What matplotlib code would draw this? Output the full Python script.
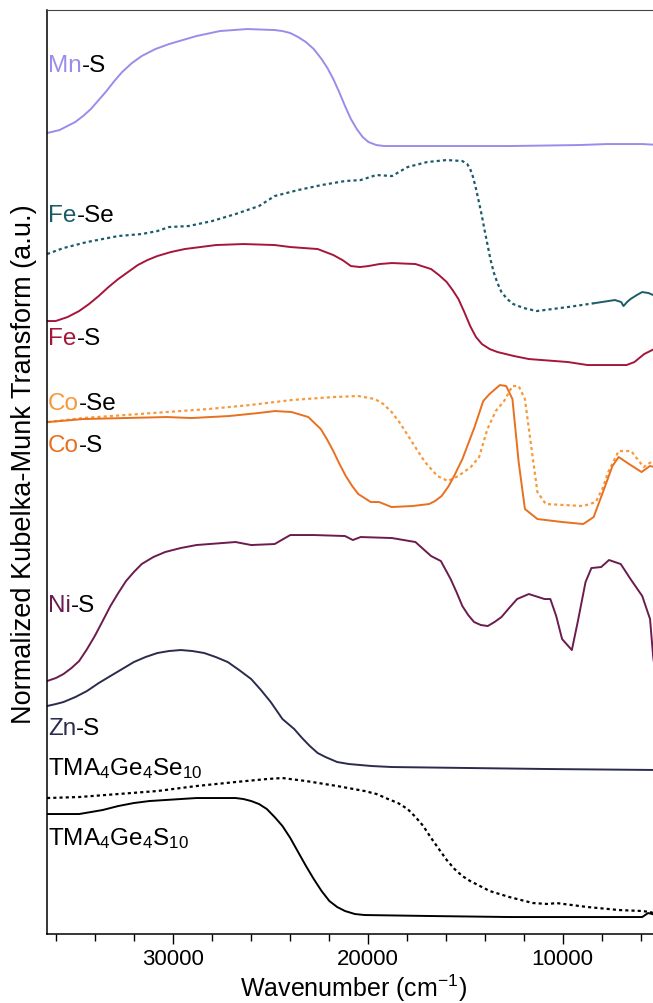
import numpy as np
import matplotlib
matplotlib.use("Agg")
import matplotlib.pyplot as plt
from matplotlib.ticker import MultipleLocator

plt.rcParams["font.family"] = ["Liberation Sans", "DejaVu Sans"]
plt.rcParams["mathtext.default"] = "regular"

# Kubelka-Munk spectra, stacked with vertical offsets (a.u.)
mns_w = [36453, 35811, 35009, 34606, 34206, 33805, 33404, 33003, 32601, 32100, 31598, 30896,
         30194, 29492, 28790, 27586, 26182, 24778, 24377, 23976, 23574, 23173, 22772, 22371,
         22070, 21769, 21468, 21167, 20866, 20565, 20264, 19964, 19562, 19161, 16754, 12742,
         9131, 7727, 5922, 5000]
mns_y = [8.01, 8.04, 8.12, 8.18, 8.25, 8.34, 8.43, 8.53, 8.62, 8.71, 8.78, 8.85,
         8.90, 8.94, 8.98, 9.03, 9.05, 9.04, 9.03, 9.01, 8.97, 8.92, 8.85, 8.75,
         8.66, 8.55, 8.42, 8.28, 8.15, 8.05, 7.97, 7.92, 7.89, 7.88, 7.88, 7.88,
         7.89, 7.90, 7.90, 7.89]

fese_w = [36453, 35610, 34407, 32802, 31598, 30796, 30194, 29191, 27987, 26784, 25580, 24778,
          23574, 22371, 21167, 20365, 19562, 18760, 17958, 16954, 15952, 15149, 14900, 14748,
          14600, 14447, 14300, 14146, 14000, 13845, 13700, 13544, 13350, 13143, 12850, 12541,
          12000, 11337, 9733, 8329]
fese_y = [6.80, 6.86, 6.92, 6.98, 7.00, 7.03, 7.07, 7.08, 7.13, 7.20, 7.28, 7.38,
          7.44, 7.49, 7.53, 7.54, 7.59, 7.58, 7.67, 7.72, 7.74, 7.73, 7.70, 7.65,
          7.57, 7.45, 7.32, 7.18, 7.03, 6.88, 6.74, 6.62, 6.51, 6.42, 6.35, 6.30,
          6.26, 6.23, 6.27, 6.31]
# low-wavenumber tail of Fe-Se (densely sampled, drawn solid)
fese_tail_w = [8329, 7326, 7000, 6884, 6700, 6523, 6200, 5922, 5600, 5000]
fese_tail_y = [6.31, 6.34, 6.32, 6.28, 6.32, 6.35, 6.39, 6.42, 6.41, 6.36]

fes_w = [36453, 36012, 35400, 34808, 34300, 33805, 33300, 32802, 32300, 31799, 31300, 30796,
         30100, 29392, 27787, 26383, 24778, 23976, 22571, 21769, 21300, 20866, 20400, 19964,
         19400, 18760, 17556, 16754, 16350, 15952, 15650, 15350, 15050, 14748, 14450, 14146,
         13750, 13344, 12500, 11739, 9733, 8730, 6724, 6322, 5821, 5000]
fes_y = [6.13, 6.13, 6.17, 6.23, 6.30, 6.38, 6.47, 6.55, 6.62, 6.69, 6.74, 6.78,
         6.82, 6.85, 6.89, 6.90, 6.89, 6.87, 6.85, 6.79, 6.74, 6.68, 6.67, 6.68,
         6.70, 6.71, 6.70, 6.65, 6.59, 6.52, 6.44, 6.35, 6.22, 6.08, 5.97, 5.90,
         5.85, 5.82, 5.78, 5.75, 5.72, 5.69, 5.69, 5.72, 5.80, 5.88]

cose_w = [36408, 34592, 32455, 30318, 28181, 26044, 23907, 21770, 20488, 19633, 19200, 18778,
          18350, 17923, 17500, 17068, 16427, 15893, 15359, 14718, 14290, 13863, 13436, 13009,
          12581, 12261, 11940, 11620, 11299, 10872, 8948, 8307, 7950, 7666, 7132, 6491,
          5850, 5000]
cose_y = [5.12, 5.16, 5.19, 5.22, 5.25, 5.29, 5.34, 5.37, 5.38, 5.35, 5.30, 5.22,
          5.11, 4.98, 4.85, 4.72, 4.58, 4.53, 4.58, 4.67, 4.77, 5.05, 5.23, 5.33,
          5.48, 5.48, 5.35, 4.88, 4.42, 4.30, 4.28, 4.32, 4.46, 4.62, 4.83, 4.83,
          4.67, 4.78]

cos_w = [36408, 34592, 32455, 30318, 29036, 27112, 25617, 24762, 23907, 23052, 22411, 22100,
         21770, 21450, 21129, 20800, 20488, 19847, 19419, 18778, 17710, 16855, 16550, 16214,
         15850, 15573, 15146, 14505, 14078, 13757, 13222, 12902, 12581, 12261, 11940, 11299,
         10017, 8948, 8414, 7880, 7452, 7132, 6598, 5957, 5529, 5000]
cos_y = [5.12, 5.15, 5.16, 5.17, 5.16, 5.18, 5.21, 5.23, 5.22, 5.17, 5.05, 4.95,
         4.83, 4.70, 4.58, 4.48, 4.40, 4.32, 4.32, 4.27, 4.28, 4.30, 4.33, 4.38,
         4.48, 4.58, 4.75, 5.08, 5.33, 5.40, 5.49, 5.48, 5.35, 4.72, 4.25, 4.15,
         4.12, 4.10, 4.17, 4.45, 4.68, 4.77, 4.70, 4.62, 4.68, 4.66]

nis_w = [36453, 36000, 35610, 35200, 34808, 34400, 34006, 33600, 33203, 32800, 32401, 32000,
         31598, 31000, 30395, 29600, 28790, 26784, 25982, 24778, 23976, 22772, 21167, 20766,
         20365, 18760, 17556, 16754, 16252, 15751, 15450, 15149, 14850, 14547, 14200, 13845,
         13500, 13143, 12750, 12341, 11739, 10937, 10636, 10335, 10034, 9533, 9232, 8830,
         8529, 8028, 7627, 7025, 6523, 5922, 5521, 5360, 5100]
nis_y = [2.53, 2.56, 2.60, 2.66, 2.73, 2.85, 2.98, 3.13, 3.28, 3.41, 3.53, 3.62,
         3.70, 3.77, 3.82, 3.86, 3.89, 3.92, 3.89, 3.90, 3.99, 3.99, 3.98, 3.94,
         3.97, 3.96, 3.92, 3.78, 3.73, 3.55, 3.42, 3.28, 3.19, 3.12, 3.09, 3.08,
         3.12, 3.17, 3.26, 3.35, 3.40, 3.35, 3.35, 3.18, 2.95, 2.84, 3.12, 3.52,
         3.66, 3.67, 3.74, 3.70, 3.55, 3.38, 3.15, 2.77, 2.40]

zns_w = [36453, 36000, 35610, 35000, 34407, 33800, 33203, 32600, 32000, 31400, 30796, 30200,
         29592, 29000, 28389, 27800, 27185, 26600, 25982, 25480, 24979, 24377, 23775, 23370,
         22973, 22570, 22170, 21570, 20967, 19800, 18760, 14748, 10736, 5000]
zns_y = [2.28, 2.30, 2.32, 2.37, 2.43, 2.51, 2.58, 2.65, 2.72, 2.77, 2.81, 2.83,
         2.84, 2.83, 2.81, 2.77, 2.72, 2.64, 2.55, 2.44, 2.32, 2.15, 2.05, 1.96,
         1.88, 1.81, 1.77, 1.72, 1.70, 1.68, 1.67, 1.66, 1.65, 1.64]

gese_w = [36453, 34808, 32802, 30796, 28790, 26784, 25179, 24377, 23173, 21568, 20164, 19550,
          18960, 18450, 17958, 17550, 17155, 16750, 16353, 15950, 15551, 15150, 14748, 13745,
          12742, 11538, 10736, 10335, 8730, 7125, 5922, 5521, 5000]
gese_y = [1.36, 1.37, 1.40, 1.43, 1.48, 1.52, 1.55, 1.56, 1.53, 1.48, 1.43, 1.40,
          1.35, 1.31, 1.25, 1.17, 1.08, 0.96, 0.85, 0.74, 0.65, 0.58, 0.53, 0.43,
          0.37, 0.31, 0.30, 0.31, 0.27, 0.24, 0.23, 0.22, 0.19]

ges_w = [36453, 35500, 34808, 34200, 33604, 32800, 32000, 31200, 30395, 28790, 26784, 26380,
         25982, 25580, 25179, 24780, 24377, 23975, 23574, 23170, 22772, 22370, 21970, 21570,
         21167, 20660, 20164, 16754, 12742, 8730, 5922, 5621, 5000]
ges_y = [1.20, 1.20, 1.20, 1.22, 1.24, 1.28, 1.31, 1.33, 1.34, 1.36, 1.36, 1.35,
         1.33, 1.30, 1.25, 1.17, 1.08, 0.96, 0.82, 0.68, 0.55, 0.43, 0.33, 0.27,
         0.23, 0.20, 0.19, 0.18, 0.17, 0.17, 0.17, 0.21, 0.18]

# label text, colour of the metal part, baseline height (a.u.)
labels = [("Mn", "-S", "#9a8cea", 8.63),
          ("Fe", "-Se", "#1d5b6a", 7.13),
          ("Fe", "-S", "#a5163a", 5.90),
          ("Co", "-Se", "#f7993a", 5.25),
          ("Co", "-S", "#e8701e", 4.83),
          ("Ni", "-S", "#6b1c4f", 3.23),
          ("Zn", "-S", "#2b2b4d", 2.00)]

dots = (0, (1.4, 1.4))
fs = 17.5

fig = plt.figure(figsize=(6.53, 10.04), dpi=100)
ax = fig.add_axes([0.0714, 0.0687, 0.9394, 0.9203])

ax.plot(mns_w, mns_y, color="#9a8cea", lw=1.4)
ax.plot(fese_w, fese_y, color="#1d5b6a", lw=1.6, ls=dots)
ax.plot(fese_tail_w, fese_tail_y, color="#1d5b6a", lw=1.4)
ax.plot(fes_w, fes_y, color="#a5163a", lw=1.4)
ax.plot(cose_w, cose_y, color="#f7993a", lw=1.6, ls=dots)
ax.plot(cos_w, cos_y, color="#e8701e", lw=1.4)
ax.plot(nis_w, nis_y, color="#6b1c4f", lw=1.4)
ax.plot(zns_w, zns_y, color="#2b2b4d", lw=1.4)
ax.plot(gese_w, gese_y, color="black", lw=1.6, ls=dots)
ax.plot(ges_w, ges_y, color="black", lw=1.4)

for metal, rest, col, y in labels:
    t = ax.text(36400, y, metal, color=col, fontsize=fs, va="baseline", ha="left")
    ax.annotate(rest, xy=(1, 0), xycoords=t, color="black", fontsize=fs,
                va="bottom", ha="left")

ax.text(36400, 1.60, "TMA$_4$Ge$_4$Se$_{10}$", fontsize=fs, va="baseline", ha="left")
ax.text(36400, 0.90, "TMA$_4$Ge$_4$S$_{10}$", fontsize=fs, va="baseline", ha="left")

ax.set_xlim(36475, 5008)
ax.set_ylim(0, 9.24)
ax.xaxis.set_major_locator(MultipleLocator(10000))
ax.xaxis.set_minor_locator(MultipleLocator(2000))
ax.tick_params(axis="x", which="major", length=7, width=1, labelsize=16, pad=3, direction="out")
ax.tick_params(axis="x", which="minor", length=5, width=1, direction="out")
ax.set_yticks([])
for side in ["left", "bottom"]:
    ax.spines[side].set_linewidth(1.1)
ax.spines["top"].set_linewidth(0.8)
ax.spines["top"].set_color("#444444")
ax.spines["right"].set_visible(False)

ax.set_xlabel("Wavenumber (cm$^{-1}$)", fontsize=18, labelpad=2)
ax.set_ylabel("Normalized Kubelka-Munk Transform (a.u.)", fontsize=19.5)
ax.yaxis.set_label_coords(-0.016, 0.51)

fig.savefig("out.png", dpi=100)
